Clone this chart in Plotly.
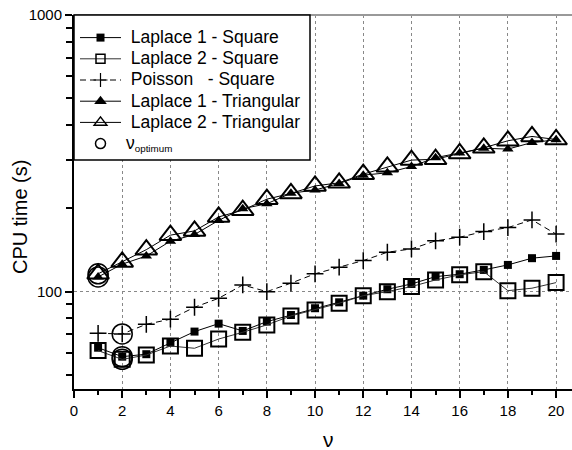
import plotly.graph_objects as go

nu = list(range(1, 21))

laplace1_square = [62.7, 58.2, 59.4, 65.4, 71.7, 76.6, 72.1, 77.9, 82.3, 87.1,
                   91.5, 96.7, 102.0, 106.6, 113.3, 115.6, 119.8, 124.9, 132.1, 134.6]
laplace2_square = [61.2, 56.9, 59.0, 63.6, 62.4, 67.4, 71.3, 75.8, 81.7, 85.9,
                   90.8, 96.7, 100.0, 104.3, 110.2, 115.0, 118.1, 100.8, 102.9, 107.8]
poisson_square = [70.7, 70.3, 76.2, 79.5, 87.8, 94.6, 105.7, 100.0, 107.3, 116.0,
                  122.6, 129.5, 138.8, 142.7, 152.6, 157.3, 164.9, 170.4, 181.7, 161.4]
laplace1_tri = [113.0, 125.7, 134.5, 152.2, 160.8, 180.9, 199.4, 207.8, 226.8, 233.0,
                246.0, 263.7, 268.8, 283.3, 305.0, 317.0, 330.0, 327.5, 346.0, 353.8]
laplace2_tri = [116.0, 128.1, 141.8, 160.0, 165.8, 186.2, 197.0, 215.9, 226.5, 241.0,
                247.4, 265.9, 282.6, 298.8, 301.0, 315.7, 331.1, 351.0, 363.9, 354.8]
opt_nu = [1, 1, 2, 2, 2]
opt_time = [116.0, 113.0, 70.3, 58.2, 56.9]

NB = "\u00a0"
labels = ["Laplace 1 - Square", "Laplace 2 - Square", "Poisson" + NB * 3 + "- Square",
          "Laplace 1 - Triangular", "Laplace 2 - Triangular"]
BIG = '<span style="font-size:17.5px">{}</span>'
names = [BIG.format(NB + t) for t in labels] + [BIG.format("\u03bd") + "<sub>optimum</sub>"]

series = [
    (laplace1_square, dict(color="black", width=1),
     dict(symbol="square", size=8, color="black"),
     dict(symbol="square", size=8, color="black")),
    (laplace2_square, dict(color="#333", width=1),
     dict(symbol="square-open", size=15, color="black", line=dict(width=2, color="black")),
     dict(symbol="square-open", size=9, color="black", line=dict(width=1.5, color="black"))),
    (poisson_square, dict(color="black", width=1, dash="6px,4px"),
     dict(symbol="cross-thin-open", size=12, color="black", line=dict(width=1.5, color="black")),
     dict(symbol="cross-thin-open", size=10, color="black", line=dict(width=1.2, color="black"))),
    (laplace1_tri, dict(color="black", width=1),
     dict(symbol="triangle-up", size=10, color="black"),
     dict(symbol="triangle-up", size=11, color="black")),
    (laplace2_tri, dict(color="black", width=1),
     dict(symbol="triangle-up-open", size=19, color="black", line=dict(width=2, color="black")),
     dict(symbol="triangle-up-open", size=11, color="black", line=dict(width=1.5, color="black"))),
]

fig = go.Figure()
for (vals, ln, mk, _), nm in zip(series, labels):
    fig.add_trace(go.Scatter(x=nu, y=vals, name=nm, mode="lines+markers",
                             line=ln, marker=mk, showlegend=False))
fig.add_trace(go.Scatter(x=opt_nu, y=opt_time, name="\u03bd optimum", mode="markers",
                         marker=dict(symbol="circle-open", size=20, color="black",
                                     line=dict(width=1.5, color="black")),
                         showlegend=False))

# legend-only entries (no data) with the small symbols used in the key
for (_, ln, _, lmk), nm in zip(series, names):
    fig.add_trace(go.Scatter(x=[None], y=[None], name=nm, mode="lines+markers",
                             line=ln, marker=lmk, showlegend=True))
fig.add_trace(go.Scatter(x=[None], y=[None], name=names[5], mode="markers",
                         marker=dict(symbol="circle-open", size=10, color="black",
                                     line=dict(width=1.5, color="black")),
                         showlegend=True))

PW, PH = 498, 374
fig.update_layout(
    width=572, height=450,
    margin=dict(l=74, r=0, t=15, b=61),
    paper_bgcolor="white", plot_bgcolor="white",
    font=dict(family="Liberation Sans, Arial, sans-serif", size=15, color="black"),
    showlegend=True,
    legend=dict(x=1 / PW, y=1 - 7 / PH, xanchor="left", yanchor="top",
                borderwidth=0, bgcolor="rgba(0,0,0,0)",
                font=dict(size=14), itemsizing="trace", itemwidth=41,
                tracegroupgap=0),
    xaxis=dict(range=[0, 20.66], tickvals=list(range(0, 21, 2)),
               ticks="outside", ticklen=7, tickwidth=2, tickcolor="black",
               showline=True, linecolor="black", linewidth=2,
               showgrid=True, gridcolor="#888", griddash="dot", gridwidth=1,
               zeroline=False,
               minor=dict(tickvals=list(range(1, 21, 2)), ticks="outside",
                          ticklen=4, tickwidth=2, tickcolor="black", showgrid=False)),
    yaxis=dict(type="log", range=[1.648, 3], tickvals=[100, 1000],
               ticktext=["100", "1000"],
               ticks="outside", ticklen=7, tickwidth=2, tickcolor="black",
               showline=True, linecolor="black", linewidth=2,
               showgrid=True, gridcolor="#888", griddash="dot", gridwidth=1,
               zeroline=False,
               minor=dict(tickvals=[50, 60, 70, 80, 90, 200, 300, 400, 500, 600, 700, 800, 900],
                          ticks="outside", ticklen=6, tickwidth=2, tickcolor="black",
                          showgrid=False)),
)

# top frame line
fig.add_shape(type="line", xref="paper", yref="paper", x0=0, x1=1, y0=1, y1=1,
              line=dict(color="#999", width=2))
# legend box
fig.add_shape(type="rect", xref="paper", yref="paper", layer="above",
              x0=0, x1=(310 - 74) / PW, y0=(389 - 160) / PH, y1=1,
              line=dict(color="black", width=1.5), fillcolor="white")

fig.add_annotation(text="\u03bd", xref="paper", yref="paper", x=(328 - 74) / PW,
                   y=-(440 - 389) / PH, showarrow=False,
                   font=dict(size=21),
                   xanchor="center", yanchor="middle")
fig.add_annotation(text="CPU time (s)", xref="paper", yref="paper", x=-(74 - 20) / PW,
                   y=(389 - 217) / PH, showarrow=False, textangle=-90,
                   font=dict(size=20), xanchor="center", yanchor="middle")

fig.write_html("out.html", config={"displayModeBar": False},
               post_script="document.body.style.margin='0';document.body.style.overflow='hidden';")
